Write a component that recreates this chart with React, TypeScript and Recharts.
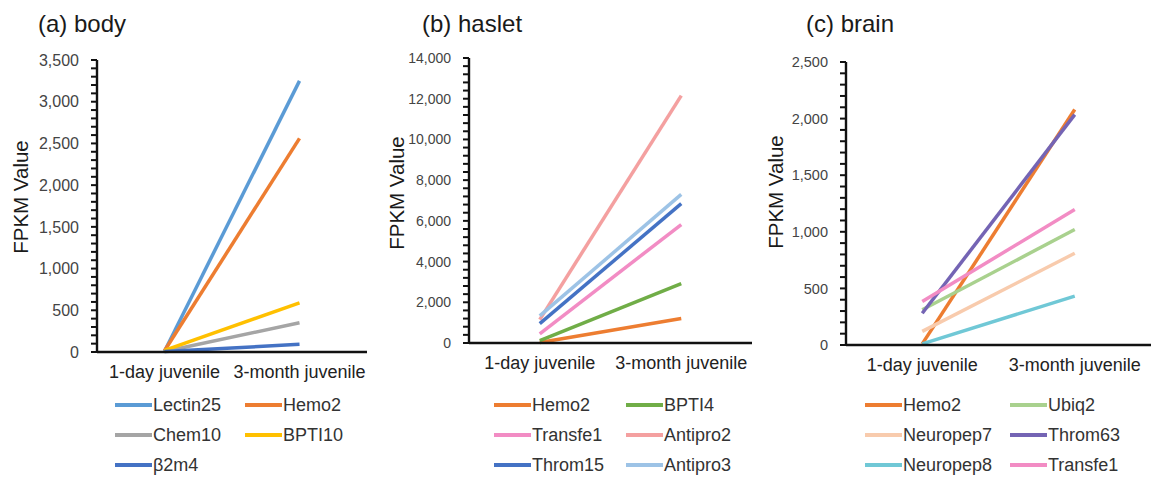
import React from 'react';
import { LineChart, Line, XAxis, YAxis } from 'recharts';

// categories on the x axis
const stages = ['1-day juvenile', '3-month juvenile'];

// (a) body
const bodyNames = ['Lectin25', 'Hemo2', 'Chem10', 'BPTI10', 'β2m4'];
const bodyColors = ['#5B9BD5', '#ED7D31', '#A5A5A5', '#FFC000', '#4472C4'];
const bodyLectin25 = [10, 3250];
const bodyHemo2 = [15, 2560];
const bodyChem10 = [5, 350];
const bodyBPTI10 = [20, 590];
const bodyB2m4 = [5, 92];
const bodyTicks = [0, 500, 1000, 1500, 2000, 2500, 3000, 3500];

// (b) haslet
const hasletNames = ['Hemo2', 'BPTI4', 'Transfe1', 'Antipro2', 'Throm15', 'Antipro3'];
const hasletColors = ['#ED7D31', '#70AD47', '#F28CC4', '#F4A0A0', '#4472C4', '#9DC3E6'];
const hasletHemo2 = [20, 1200];
const hasletBPTI4 = [120, 2920];
const hasletTransfe1 = [450, 5820];
const hasletAntipro2 = [1150, 12150];
const hasletThrom15 = [950, 6850];
const hasletAntipro3 = [1330, 7300];
const hasletTicks = [0, 2000, 4000, 6000, 8000, 10000, 12000, 14000];

// (c) brain
const brainNames = ['Hemo2', 'Ubiq2', 'Neuropep7', 'Throm63', 'Neuropep8', 'Transfe1'];
const brainColors = ['#ED7D31', '#A9D18E', '#F8CBAD', '#7464B4', '#70C8D6', '#F28CC4'];
const brainHemo2 = [10, 2080];
const brainUbiq2 = [312, 1020];
const brainNeuropep7 = [120, 810];
const brainThrom63 = [280, 2035];
const brainNeuropep8 = [10, 432];
const brainTransfe1 = [384, 1197];
const brainTicks = [0, 500, 1000, 1500, 2000, 2500];

const FONT = '"Liberation Sans", Arial, sans-serif';
const AXIS = '#111';

const buildRows = (names: string[], series: number[][]) =>
  stages.map((stage, i) => {
    const row: any = { stage };
    names.forEach((n, k) => { row[n] = series[k][i]; });
    return row;
  });

const minorTicks = (max: number, step: number) => {
  const out: number[] = [];
  for (let v = 0; v <= max; v += step) out.push(v);
  return out;
};

const fmt = (v: number) => v.toLocaleString('en-US');

interface PanelProps {
  title: string;
  names: string[];
  colors: string[];
  series: number[][];
  majors: number[];
  minorStep: number;
  left: number;
  width: number;
  plotLeft: number;
  plotRight: number;
  plotTop: number;
  plotBottom: number;
  tickFont: number;
  yLabelX: number;
  yLabelY: number;
  legendCols: number[];
}

const Panel: React.FC<PanelProps> = (p) => {
  const data = buildRows(p.names, p.series);
  const max = p.majors[p.majors.length - 1];
  const ticks = minorTicks(max, p.minorStep);
  const yWidth = p.plotLeft - p.left;
  const xHeight = 30;
  const plotW = p.plotRight - p.plotLeft;

  // label only the major values; the tick marks come from tickLine
  const YTick = (props: any) => {
    const { x, y, payload } = props;
    if (!p.majors.includes(payload.value)) return <g />;
    return (
      <text x={x} y={y} dy="0.355em" textAnchor="end" fill="#444" fontSize={p.tickFont} fontFamily={FONT}>
        {fmt(payload.value)}
      </text>
    );
  };

  return (
    <>
      <div style={{ position: 'absolute', left: p.left + 38, top: 10, fontSize: 24, color: '#1a1a1a', lineHeight: '28px' }}>
        {p.title}
      </div>
      <div
        style={{
          position: 'absolute', left: p.yLabelX, top: p.yLabelY, fontSize: 20.5, color: '#1a1a1a',
          transform: 'translate(-50%, -50%) rotate(-90deg)', whiteSpace: 'nowrap', lineHeight: '20px',
        }}
      >
        FPKM Value
      </div>
      <div style={{ position: 'absolute', left: p.left, top: 0 }}>
        <LineChart
          width={p.width}
          height={479}
          data={data}
          margin={{ top: p.plotTop, right: p.left + p.width - p.plotRight, bottom: 479 - p.plotBottom - xHeight, left: 0 }}
        >
          <XAxis
            dataKey="stage"
            height={xHeight}
            padding={{ left: plotW / 4, right: plotW / 4 }}
            tickLine={false}
            tickSize={0}
            tickMargin={13}
            interval={0}
            axisLine={{ stroke: AXIS, strokeWidth: 2.4 }}
            tick={{ fill: '#222', fontSize: 18, fontFamily: FONT }}
          />
          <YAxis
            width={yWidth}
            domain={[0, max]}
            ticks={ticks}
            interval={0}
            tickSize={6}
            tickMargin={12}
            tickLine={{ stroke: AXIS, strokeWidth: 2 }}
            axisLine={{ stroke: AXIS, strokeWidth: 2.4 }}
            tick={<YTick />}
          />
          {p.names.map((n, k) => (
            <Line
              key={n}
              type="linear"
              dataKey={n}
              stroke={p.colors[k]}
              strokeWidth={3.5}
              dot={false}
              activeDot={false}
              isAnimationActive={false}
            />
          ))}
        </LineChart>
      </div>
      {p.names.map((n, k) => {
        const col = k % 2;
        const row = Math.floor(k / 2);
        return (
          <div
            key={'lg' + n}
            style={{
              position: 'absolute', left: p.legendCols[col], top: 405 + row * 30 - 11, height: 22,
              display: 'flex', alignItems: 'center', fontSize: 18, color: '#333',
            }}
          >
            <div style={{ width: 37, height: 4, background: p.colors[k], marginRight: 1 }} />
            <span>{n}</span>
          </div>
        );
      })}
    </>
  );
};

const App: React.FC = () => (
  <div style={{ position: 'absolute', left: 0, top: 0, width: 1153, height: 479, background: '#fff', fontFamily: FONT, overflow: 'hidden' }}>
    <Panel
      title="(a) body"
      names={bodyNames}
      colors={bodyColors}
      series={[bodyLectin25, bodyHemo2, bodyChem10, bodyBPTI10, bodyB2m4]}
      majors={bodyTicks}
      minorStep={100}
      left={0}
      width={384}
      plotLeft={97}
      plotRight={367}
      plotTop={60}
      plotBottom={352}
      tickFont={16}
      yLabelX={21}
      yLabelY={197}
      legendCols={[115, 245]}
    />
    <Panel
      title="(b) haslet"
      names={hasletNames}
      colors={hasletColors}
      series={[hasletHemo2, hasletBPTI4, hasletTransfe1, hasletAntipro2, hasletThrom15, hasletAntipro3]}
      majors={hasletTicks}
      minorStep={400}
      left={384}
      width={384}
      plotLeft={469}
      plotRight={752}
      plotTop={58}
      plotBottom={343}
      tickFont={14}
      yLabelX={397}
      yLabelY={193}
      legendCols={[494, 626]}
    />
    <Panel
      title="(c) brain"
      names={brainNames}
      colors={brainColors}
      series={[brainHemo2, brainUbiq2, brainNeuropep7, brainThrom63, brainNeuropep8, brainTransfe1]}
      majors={brainTicks}
      minorStep={100}
      left={768}
      width={385}
      plotLeft={846}
      plotRight={1151}
      plotTop={62}
      plotBottom={345}
      tickFont={14.5}
      yLabelX={776}
      yLabelY={192}
      legendCols={[865, 1010]}
    />
  </div>
);

export default App;
